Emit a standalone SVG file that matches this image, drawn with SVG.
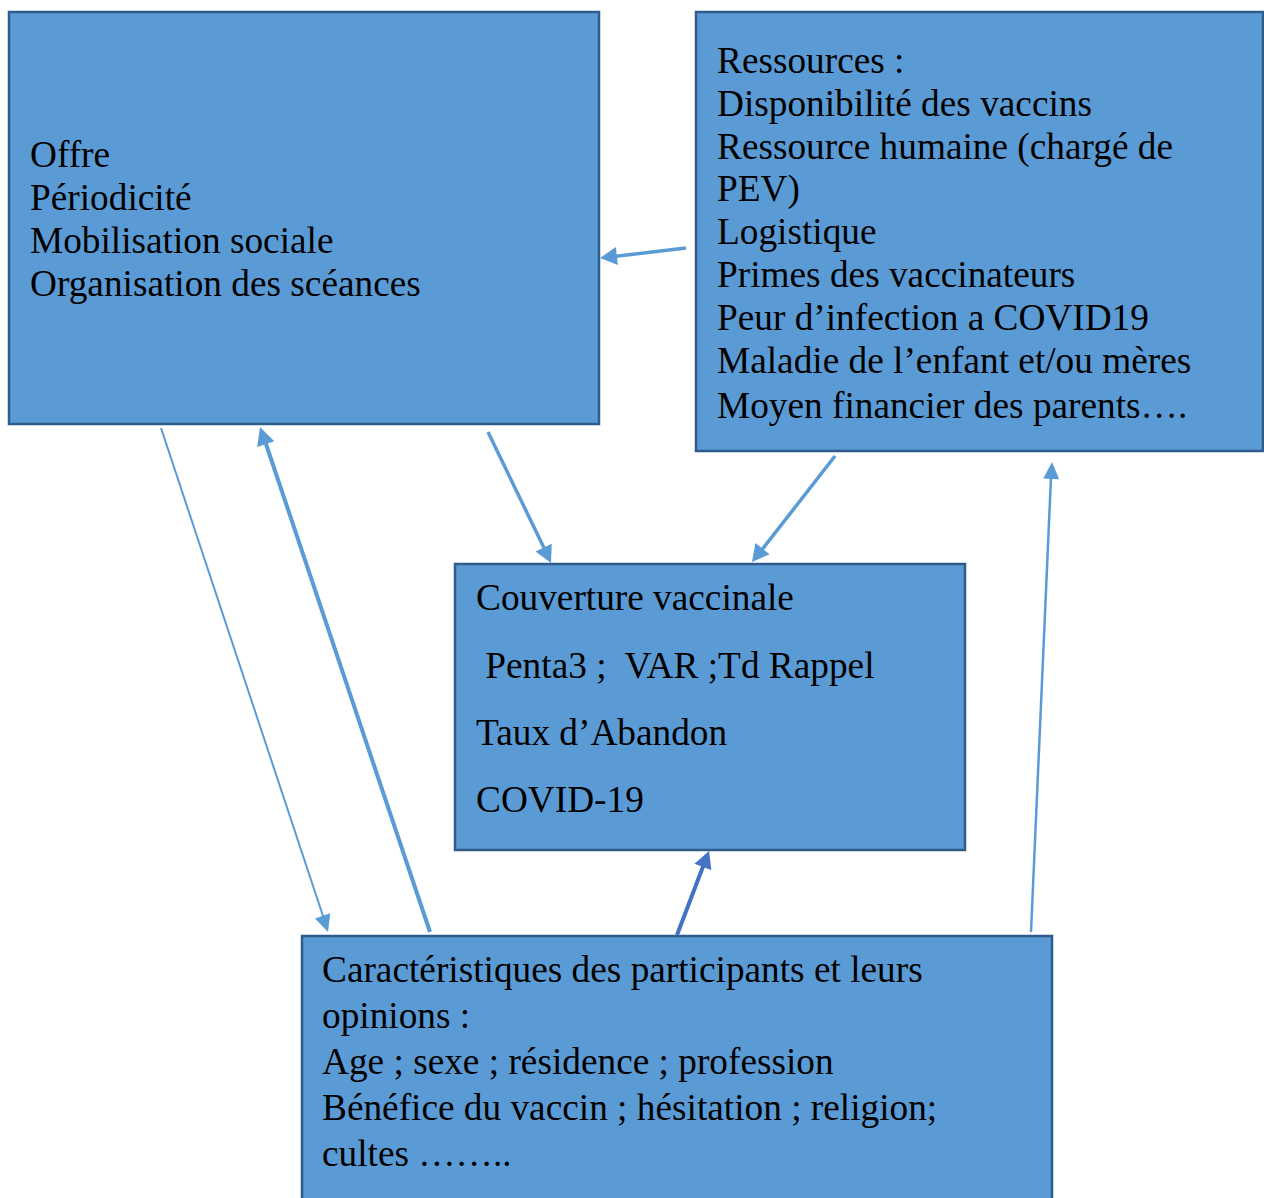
<svg xmlns="http://www.w3.org/2000/svg" width="1264" height="1198" viewBox="0 0 1264 1198">
<style>
.box{fill:#5B9BD5;stroke:#2F5C8A;stroke-width:2.5}
.t{font-family:"Liberation Serif","Times New Roman",serif;font-size:37.3px;fill:#000}
.c{stroke:#5B9BD5;fill:none}
</style>
<rect width="1264" height="1198" fill="#fff"/>
<g id="offre">
<rect class="box" x="9" y="12" width="590" height="412"/>
<text class="t" x="30" y="167">Offre</text>
<text class="t" x="30" y="210">Périodicité</text>
<text class="t" x="30" y="253">Mobilisation sociale</text>
<text class="t" x="30" y="296">Organisation des scéances</text>
</g>
<g id="ressources">
<rect class="box" x="696" y="12" width="567" height="439"/>
<text class="t" x="717" y="73">Ressources :</text>
<text class="t" x="717" y="116">Disponibilité des vaccins</text>
<text class="t" x="717" y="159">Ressource humaine (chargé de</text>
<text class="t" x="717" y="201">PEV)</text>
<text class="t" x="717" y="244">Logistique</text>
<text class="t" x="717" y="287">Primes des vaccinateurs</text>
<text class="t" x="717" y="330">Peur d’infection a COVID19</text>
<text class="t" x="717" y="373">Maladie de l’enfant et/ou mères</text>
<text class="t" x="717" y="418">Moyen financier des parents….</text>
</g>
<g id="couverture">
<rect class="box" x="455" y="564" width="510" height="286"/>
<text class="t" x="476" y="610">Couverture vaccinale</text>
<text class="t" x="476" y="678" xml:space="preserve"> Penta3 ;  VAR ;Td Rappel</text>
<text class="t" x="476" y="745">Taux d’Abandon</text>
<text class="t" x="476" y="812">COVID-19</text>
</g>
<g id="caracteristiques">
<rect class="box" x="302" y="936" width="750" height="270"/>
<text class="t" x="322" y="982">Caractéristiques des participants et leurs</text>
<text class="t" x="322" y="1028">opinions :</text>
<text class="t" x="322" y="1074">Age ; sexe ; résidence ; profession</text>
<text class="t" x="322" y="1120">Bénéfice du vaccin ; hésitation ; religion;</text>
<text class="t" x="322" y="1166">cultes ……..</text>
</g>
<g id="connectors">
<line class="c" stroke-width="3.5" x1="686" y1="248" x2="614" y2="256.5"/>
<path d="M0,0 L-17,-9 L-17,9 z" fill="#5B9BD5" transform="translate(600,258) rotate(173.3)"/>
<line class="c" stroke-width="3.5" x1="488" y1="432" x2="545" y2="550"/>
<path d="M0,0 L-17,-9 L-17,9 z" fill="#5B9BD5" transform="translate(551,563) rotate(64.3)"/>
<line class="c" stroke-width="3.5" x1="835" y1="456" x2="761" y2="551"/>
<path d="M0,0 L-17,-9 L-17,9 z" fill="#5B9BD5" transform="translate(752,562) rotate(128)"/>
<line class="c" stroke-width="2" x1="161" y1="428" x2="324" y2="919"/>
<path d="M0,0 L-17,-8 L-17,8 z" fill="#5B9BD5" transform="translate(328,932) rotate(71.6)"/>
<line class="c" stroke-width="4" x1="430" y1="932" x2="265" y2="441"/>
<path d="M0,0 L-18,-9 L-18,9 z" fill="#5B9BD5" transform="translate(260,427) rotate(251.4)"/>
<line stroke="#4472C4" stroke-width="4" x1="677" y1="935" x2="704" y2="864"/>
<path d="M0,0 L-17,-9 L-17,9 z" fill="#4472C4" transform="translate(709,851) rotate(-69.1)"/>
<line class="c" stroke-width="2.5" x1="1031" y1="932" x2="1051" y2="477"/>
<path d="M0,0 L-17,-8 L-17,8 z" fill="#5B9BD5" transform="translate(1052,462) rotate(-87.4)"/>
</g>
</svg>
